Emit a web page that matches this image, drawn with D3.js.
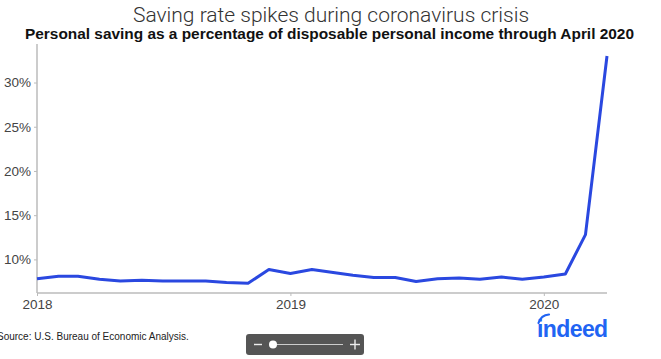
<!DOCTYPE html>
<html>
<head>
<meta charset="utf-8">
<script src="https://cdn.jsdelivr.net/npm/d3@7"></script>
<style>
  html, body { margin: 0; padding: 0; background: #fff; }
  svg { display: block; }
</style>
</head>
<body>
<svg id="chart" width="661" height="359"></svg>
<script>
const titleText = "Saving rate spikes during coronavirus crisis";
const subtitleText = "Personal saving as a percentage of disposable personal income through April 2020";
const sourceText = "Source: U.S. Bureau of Economic Analysis.";

const months = [
  "2018-01","2018-02","2018-03","2018-04","2018-05","2018-06","2018-07","2018-08","2018-09","2018-10","2018-11","2018-12",
  "2019-01","2019-02","2019-03","2019-04","2019-05","2019-06","2019-07","2019-08","2019-09","2019-10","2019-11","2019-12",
  "2020-01","2020-02","2020-03","2020-04"
];
const savingRate = [
  7.8, 8.1, 8.1, 7.75, 7.55, 7.65, 7.55, 7.55, 7.55, 7.4, 7.3, 8.85,
  8.4, 8.85, 8.55, 8.2, 7.95, 7.95, 7.5, 7.8, 7.9, 7.75, 8.0, 7.75,
  8.0, 8.35, 12.8, 33.0
];
const yTicks = [10, 15, 20, 25, 30];
const xTicks = ["2018-01", "2019-01", "2020-01"];

const parse = d3.timeParse("%Y-%m");
const data = months.map((m, i) => ({ date: parse(m), value: savingRate[i] }));

const svg = d3.select("#chart");
const M = { left: 37, right: 607, top: 44, bottom: 293 };

const x = d3.scaleTime()
  .domain([parse(months[0]), parse(months[months.length - 1])])
  .range([M.left, M.right]);
const y = d3.scaleLinear()
  .domain([6.2, 33.0])
  .range([M.bottom, 56]);

// Title
svg.append("text")
  .attr("x", 331).attr("y", 22)
  .attr("text-anchor", "middle")
  .attr("font-family", "Roboto, 'Liberation Sans', sans-serif")
  .attr("font-weight", 300)
  .attr("font-size", 21)
  .attr("fill", "#333")
  .text(titleText);

svg.append("text")
  .attr("x", 25).attr("y", 39)
  .attr("font-family", "'Liberation Sans', Arial, sans-serif")
  .attr("font-weight", "bold")
  .attr("font-size", 15)
  .attr("textLength", 609)
  .attr("lengthAdjust", "spacingAndGlyphs")
  .attr("fill", "#111")
  .text(subtitleText);

// Y axis
const yAxis = d3.axisLeft(y)
  .tickValues(yTicks)
  .tickFormat(d => d + "%")
  .tickSize(3)
  .tickPadding(3);
const gy = svg.append("g")
  .attr("transform", `translate(${M.left},0)`)
  .call(yAxis);
gy.select(".domain").remove();
gy.selectAll(".tick line").attr("stroke", "#bbb");
gy.selectAll(".tick text")
  .attr("font-family", "'Liberation Sans', Arial, sans-serif")
  .attr("font-size", 13.5)
  .attr("fill", "#444");
svg.append("line")
  .attr("x1", M.left).attr("x2", M.left)
  .attr("y1", M.top).attr("y2", M.bottom)
  .attr("stroke", "#bbb").attr("stroke-width", 1.5);

// X axis
const xAxis = d3.axisBottom(x)
  .tickValues(xTicks.map(parse))
  .tickFormat(d3.timeFormat("%Y"))
  .tickSize(3)
  .tickPadding(3);
const gx = svg.append("g")
  .attr("transform", `translate(0,${M.bottom})`)
  .call(xAxis);
gx.select(".domain").remove();
gx.selectAll(".tick line").attr("stroke", "#bbb");
gx.selectAll(".tick text")
  .attr("font-family", "'Liberation Sans', Arial, sans-serif")
  .attr("font-size", 13.5)
  .attr("fill", "#444");
svg.append("line")
  .attr("x1", M.left).attr("x2", M.right)
  .attr("y1", M.bottom).attr("y2", M.bottom)
  .attr("stroke", "#bbb").attr("stroke-width", 1.5);

// Line
const line = d3.line()
  .x(d => x(d.date))
  .y(d => y(d.value));
svg.append("path")
  .datum(data)
  .attr("d", line)
  .attr("fill", "none")
  .attr("stroke", "#2a48e0")
  .attr("stroke-width", 3)
  .attr("stroke-linejoin", "round");

// Source
svg.append("text")
  .attr("x", -3).attr("y", 340)
  .attr("font-family", "'Liberation Sans', Arial, sans-serif")
  .attr("font-size", 10)
  .attr("fill", "#222")
  .text(sourceText);

// Zoom slider control
const slider = svg.append("g");
slider.append("rect")
  .attr("x", 246).attr("y", 334)
  .attr("width", 118).attr("height", 21)
  .attr("rx", 3)
  .attr("fill", "#555");
slider.append("line")
  .attr("x1", 254).attr("x2", 262).attr("y1", 344.5).attr("y2", 344.5)
  .attr("stroke", "#eee").attr("stroke-width", 1.4);
slider.append("line")
  .attr("x1", 350).attr("x2", 360).attr("y1", 344.5).attr("y2", 344.5)
  .attr("stroke", "#eee").attr("stroke-width", 1.4);
slider.append("line")
  .attr("x1", 355).attr("x2", 355).attr("y1", 339.5).attr("y2", 349.5)
  .attr("stroke", "#eee").attr("stroke-width", 1.4);
slider.append("line")
  .attr("x1", 273).attr("x2", 343).attr("y1", 344.5).attr("y2", 344.5)
  .attr("stroke", "#ccc").attr("stroke-width", 1);
slider.append("circle")
  .attr("cx", 273).attr("cy", 344.5).attr("r", 4)
  .attr("fill", "#fff");

// indeed logo
const logo = svg.append("g");
logo.append("text")
  .attr("x", 537).attr("y", 337)
  .attr("font-family", "'Liberation Sans', Arial, sans-serif")
  .attr("font-weight", "bold")
  .attr("font-size", 23)
  .attr("letter-spacing", -0.6)
  .attr("fill", "#2164f3")
  .text("indeed");
logo.append("path")
  .attr("d", "M538.5,323 Q541,315 549,314.5")
  .attr("fill", "none")
  .attr("stroke", "#2164f3")
  .attr("stroke-width", 2.2)
  .attr("stroke-linecap", "round");
</script>
</body>
</html>
